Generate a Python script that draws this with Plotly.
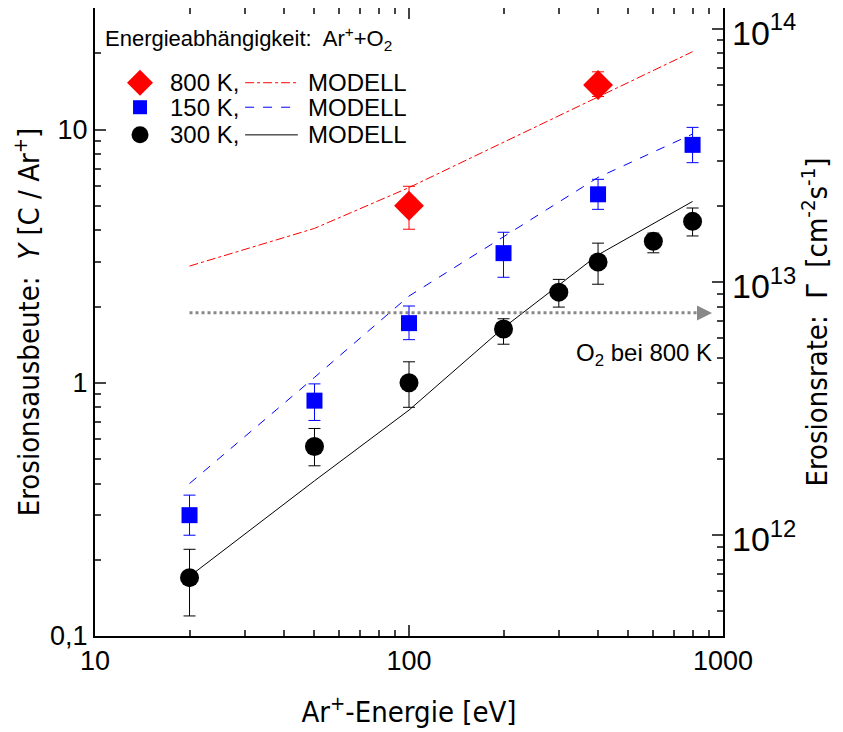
import plotly.graph_objects as go

# Ar+ energy [eV]
energy_300 = [20, 50, 100, 200, 300, 400, 600, 800]
yield_300 = [0.17, 0.56, 1.0, 1.63, 2.28, 3.0, 3.62, 4.34]
err_up_300 = [0.05, 0.10, 0.21, 0.16, 0.28, 0.56, 0.28, 0.56]
err_dn_300 = [0.05, 0.09, 0.20, 0.21, 0.29, 0.55, 0.36, 0.54]

energy_150 = [20, 50, 100, 200, 400, 800]
yield_150 = [0.30, 0.85, 1.72, 3.25, 5.55, 8.7]
err_up_150 = [0.06, 0.14, 0.29, 0.68, 0.81, 1.5]
err_dn_150 = [0.05, 0.14, 0.24, 0.64, 0.71, 1.3]

energy_800 = [100, 400]
yield_800 = [5.0, 15.0]
err_up_800 = [0.97, 1.9]
err_dn_800 = [0.96, 1.5]

model_energy = [20, 50, 100, 200, 400, 800]
model_800 = [2.89, 4.07, 5.9, 8.9, 13.4, 20.3]
model_150 = [0.40, 1.05, 2.2, 3.76, 6.47, 9.6]
model_300 = [0.172, 0.41, 0.78, 1.65, 3.2, 5.2]

o2_energy = [20, 845]
o2_yield = [1.89, 1.89]

yield_to_rate = 4e12  # Gamma = k * Y
y_range = [-1, 1.48]

x_minor = [20, 30, 40, 50, 60, 70, 80, 90, 200, 300, 400, 500, 600, 700, 800, 900]
y_minor = [m * d for d in (0.1, 1, 10) for m in range(2, 10)]
y2_minor = [m * d for d in (1e11, 1e12, 1e13) for m in range(2, 10)]

FONT = "Liberation Sans, Arial, sans-serif"
NARROW = "Liberation Sans Narrow, DejaVu Sans Condensed, Arial Narrow, Liberation Sans"

fig = go.Figure()

fig.add_trace(go.Scatter(x=model_energy, y=model_800, mode="lines",
                         line=dict(color="red", width=1, dash="dashdot")))
fig.add_trace(go.Scatter(x=model_energy, y=model_150, mode="lines",
                         line=dict(color="blue", width=1, dash="dash")))
fig.add_trace(go.Scatter(x=model_energy, y=model_300, mode="lines",
                         line=dict(color="black", width=1)))

fig.add_trace(go.Scatter(x=o2_energy, y=o2_yield, mode="lines",
                         line=dict(color="#888888", width=3, dash="dot")))

fig.add_trace(go.Scatter(
    x=energy_800, y=yield_800, mode="markers",
    marker=dict(symbol="diamond", size=23, color="red"),
    error_y=dict(type="data", array=err_up_800, arrayminus=err_dn_800,
                 color="red", thickness=1, width=6)))
fig.add_trace(go.Scatter(
    x=energy_150, y=yield_150, mode="markers",
    marker=dict(symbol="square", size=16, color="blue"),
    error_y=dict(type="data", array=err_up_150, arrayminus=err_dn_150,
                 color="blue", thickness=1, width=6)))
fig.add_trace(go.Scatter(
    x=energy_300, y=yield_300, mode="markers",
    marker=dict(symbol="circle", size=19, color="black"),
    error_y=dict(type="data", array=err_up_300, arrayminus=err_dn_300,
                 color="black", thickness=1, width=6)))

# invisible trace for the right axis
fig.add_trace(go.Scatter(x=[20], y=[yield_to_rate], yaxis="y2",
                         mode="markers", marker=dict(opacity=0),
                         hoverinfo="skip"))

# manual legend on an overlay axis (paper fractions)
leg_rows = [0.881, 0.842, 0.798]
leg_symbols = [("diamond", 20, "red"), ("square", 14, "blue"), ("circle", 17, "black")]
leg_labels = ["800 K,", "150 K,", "300 K,"]
leg_dash = ["dashdot", "dash", "solid"]
for row, (sym, sz, col), dash in zip(leg_rows, leg_symbols, leg_dash):
    fig.add_trace(go.Scatter(x=[0.0717], y=[row], xaxis="x3", yaxis="y3",
                             mode="markers",
                             marker=dict(symbol=sym, size=sz, color=col)))
    fig.add_trace(go.Scatter(x=[0.239, 0.323], y=[row, row], xaxis="x3",
                             yaxis="y3", mode="lines",
                             line=dict(color=col, width=1, dash=dash)))

annotations = [
    dict(x=0.012, y=0.952, xref="paper", yref="paper", xanchor="left",
         yanchor="middle", showarrow=False,
         text="Energieabhängigkeit:  Ar<sup>+</sup>+O<sub>2</sub>",
         font=dict(size=22)),
]
for row, lab in zip(leg_rows, leg_labels):
    annotations.append(dict(x=0.116, y=row, xref="paper", yref="paper",
                            xanchor="left", yanchor="middle", showarrow=False,
                            text=lab, font=dict(size=24)))
    annotations.append(dict(x=0.336, y=row, xref="paper", yref="paper",
                            xanchor="left", yanchor="middle", showarrow=False,
                            text="MODELL", font=dict(size=24)))

# arrowhead of the O2 line
annotations.append(dict(x=2.965, y=0.276, ax=2.93, ay=0.276, xref="x", yref="y",
                        axref="x", ayref="y", text="", showarrow=True,
                        arrowhead=2, arrowsize=1, arrowwidth=3,
                        arrowcolor="#888888"))
annotations.append(dict(x=2.97, y=0.11, xref="x", yref="y", xanchor="right",
                        yanchor="middle", showarrow=False,
                        text="O<sub>2</sub> bei 800 K", font=dict(size=24)))

fig.update_layout(
    width=835, height=724,
    margin=dict(l=87, r=120, t=0, b=96),
    plot_bgcolor="white", paper_bgcolor="white",
    showlegend=False,
    font=dict(family=FONT, size=27, color="black"),
    annotations=annotations,
    xaxis=dict(type="log", range=[1, 3], tickvals=[10, 100, 1000],
               ticktext=["10", "100", "1000"], automargin=False,
               ticks="inside", ticklen=11, tickwidth=1.5,
               showline=True, linecolor="black", linewidth=2,
               mirror="ticks", showgrid=False, zeroline=False,
               minor=dict(ticks="inside", ticklen=6, tickwidth=1.5,
                          tickvals=x_minor, showgrid=False),
               title=dict(text="Ar<sup>+</sup>-Energie [eV]", standoff=26,
                          font=dict(size=29, family=NARROW))),
    yaxis=dict(type="log", range=y_range, tickvals=[0.1, 1, 10],
               ticktext=["0,1", "1", "10"], automargin=False,
               ticks="inside", ticklen=11, tickwidth=1.5,
               showline=True, linecolor="black", linewidth=2,
               mirror=True, showgrid=False, zeroline=False,
               minor=dict(ticks="inside", ticklen=6, tickwidth=1.5,
                          tickvals=y_minor, showgrid=False),
               title=dict(text="Erosionsausbeute:  <i>Y</i> [C / Ar<sup>+</sup>]",
                          standoff=12, font=dict(size=29, family=NARROW))),
    yaxis2=dict(type="log", overlaying="y", side="right", automargin=False,
                range=[y_range[0] + 12.602, y_range[1] + 12.602],
                tickvals=[1e12, 1e13, 1e14],
                ticktext=["10<sup>12</sup>", "10<sup>13</sup>", "10<sup>14</sup>"],
                tickfont=dict(size=34), ticklabeloverflow="allow",
                ticklabelstandoff=8, ticklabelshift=4,
                ticks="inside", ticklen=11, tickwidth=1.5,
                showline=False, showgrid=False, zeroline=False,
                minor=dict(ticks="inside", ticklen=6, tickwidth=1.5,
                           tickvals=y2_minor, showgrid=False),
                title=dict(text="Erosionsrate:  Γ  [cm<sup>-2</sup>s<sup>-1</sup>]",
                           standoff=10, font=dict(size=29, family=NARROW))),
    xaxis3=dict(domain=[0, 1], range=[0, 1], overlaying="x", visible=False,
                fixedrange=True),
    yaxis3=dict(domain=[0, 1], range=[0, 1], overlaying="y", visible=False,
                fixedrange=True, anchor="x3"),
)

fig.write_html("out.html")
